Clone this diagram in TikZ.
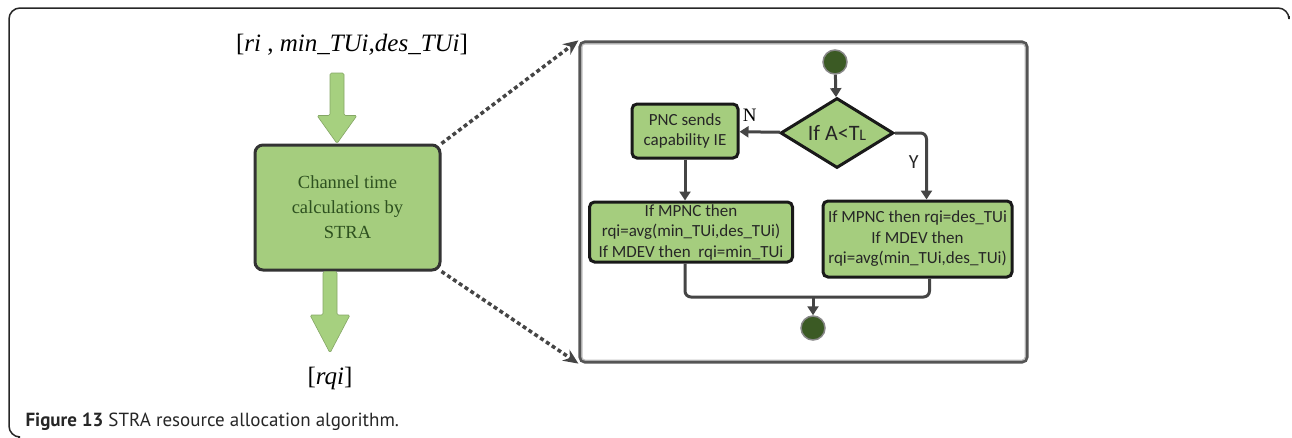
\documentclass[tikz,border=0pt]{standalone}
\usepackage{fontspec}
\setmainfont{Liberation Serif}
\newfontfamily\flowfont{Carlito}
\newfontfamily\capfont{PT Sans}
\usetikzlibrary{arrows.meta, shapes.geometric, positioning, calc}
\definecolor{STRAgreen}{HTML}{A5CD7E}
\definecolor{STRAarrow}{HTML}{A6D07F}
\definecolor{STRAdark}{HTML}{3B5A24}
\definecolor{STRAtext}{HTML}{2E5120}
\definecolor{STRAline}{HTML}{454545}
\definecolor{STRAframe}{HTML}{555555}

\begin{document}
\begin{tikzpicture}[x=1pt, y=-1pt,
   chanbox/.style={draw=black!80, line width=3pt, fill=STRAgreen, rounded corners=8pt,
      minimum width=185pt, minimum height=125pt, align=center, text=STRAtext,
      font=\fontsize{18.5}{25}\selectfont},
   flowbox/.style={draw=black!90, line width=3pt, fill=STRAgreen, rounded corners=5pt,
      align=center, inner sep=0pt, text=black!85, font=\flowfont\fontsize{17}{20.5}\selectfont},
   decision/.style={diamond, draw=black!90, line width=3pt, fill=STRAgreen, aspect=1.6,
      minimum width=113pt, minimum height=70pt, inner sep=0pt, text=black!85,
      font=\flowfont\fontsize{22}{24}\selectfont},
   dot/.style={circle, draw=STRAframe!70, line width=1.5pt, fill=STRAdark, minimum size=24pt, inner sep=0pt},
   flowline/.style={draw=STRAline, line width=3pt, -{Triangle[width=11pt,length=9pt]}},
   zoomline/.style={draw=STRAline, line width=3.5pt, dash pattern=on 4pt off 3pt,
      -{Stealth[width=13pt,length=15pt]}},
   blockarrow/.style={fill=STRAarrow, draw=STRAarrow!80!black, line width=0.6pt, rounded corners=1.5pt},
]
   \useasboundingbox (0,0) rectangle (1292,437);
   % Outer frame
   \draw[black!85, line width=1.5pt, rounded corners=11pt]
      (1289,16) -- (1289,8) -- (9,8) -- (9,437) -- (18,437);
   % Left part
   \node[font=\fontsize{25}{28}\selectfont] (inlbl) at (352,45)
      {[\textit{ri} , \textit{min\_TUi,des\_TUi}]};
   \node[chanbox] (chan) at (347.5,207.5) {Channel time\\calculations by\\STRA};
   \node[font=\fontsize{25}{28}\selectfont] (outlbl) at (330,378) {[\textit{rqi}]};
   \coordinate (inTop) at (337,73);
   \coordinate (outEnd) at (330,353);
   % Green block arrows
   \path[blockarrow] ($(inTop)+(-7,0)$) -- ($(inTop |- chan.north)+(-7,-28)$) -- ++(-13,0)
      -- (inTop |- chan.north) -- ++(20,-28) -- ++(-13,0) -- ($(inTop)+(7,0)$) -- cycle;
   \path[blockarrow] ($(outEnd |- chan.south)+(-7,0)$) -- ($(outEnd)+(-7,-38)$) -- ++(-13,0)
      -- (outEnd) -- ++(20,-38) -- ++(-13,0) -- ($(outEnd |- chan.south)+(7,0)$) -- cycle;
   % Zoomed flowchart
   \node[draw=STRAframe, line width=3.2pt, rounded corners=5pt, minimum width=447pt,
      minimum height=320pt] (zoom) at (803.5,202) {};
   \draw[black!25, line width=1.2pt, rounded corners=3pt] ($(zoom.north west)+(3.5,3.5)$) rectangle ($(zoom.south east)+(-3.5,-3.5)$);
   \draw[zoomline] (chan.north east) -- (zoom.north west);
   \draw[zoomline] (chan.south east) -- (zoom.south west);
   \node[dot] (start) at (835,62) {};
   \node[decision] (test) at (837,133) {If A<T{\fontsize{16}{16}\selectfont L}};
   \node[flowbox, minimum width=106pt, minimum height=54pt] (pnc) at (685,131)
      {PNC sends\\capability IE};
   \node[flowbox, minimum width=203pt, minimum height=60pt] (mpnc) at (691,232)
      {If MPNC then\\rqi=avg(min\_TUi,des\_TUi)\\If MDEV then\ \ rqi=min\_TUi};
   \node[flowbox, minimum width=189pt, minimum height=76pt] (mdev) at (917.5,239)
      {If MPNC then rqi=des\_TUi\\If MDEV then\\rqi=avg(min\_TUi,des\_TUi)};
   \node[dot] (stop) at (813,328) {};
   \coordinate (merge) at (813,297);
   \draw[flowline] (start) -- (test);
   \draw[flowline] (test) -- (pnc) node[pos=0.75, above=6pt, font=\fontsize{19}{20}\selectfont] {N};
   \draw[flowline, rounded corners=6pt] (test.east) -| ($(mdev.north)+(9,0)$)
      node[pos=0.72, left=3pt, font=\flowfont\fontsize{20}{20}\selectfont, text=black!85] {Y};
   \draw[flowline] (pnc.south) -- (pnc.south |- mpnc.north);
   \draw[STRAline, line width=3pt, rounded corners=6pt]
      ($(mpnc.south)+(-6,0)$) |- (merge) -| ($(mdev.south)+(12,0)$);
   \draw[flowline] (merge) -- (stop);
   % Caption
   \node[anchor=base west, font=\capfont\fontsize{19}{22}\selectfont, text=black!85] (cap) at (22,426)
      {\textbf{Figure 13} STRA resource allocation algorithm.};
\end{tikzpicture}
\end{document}
